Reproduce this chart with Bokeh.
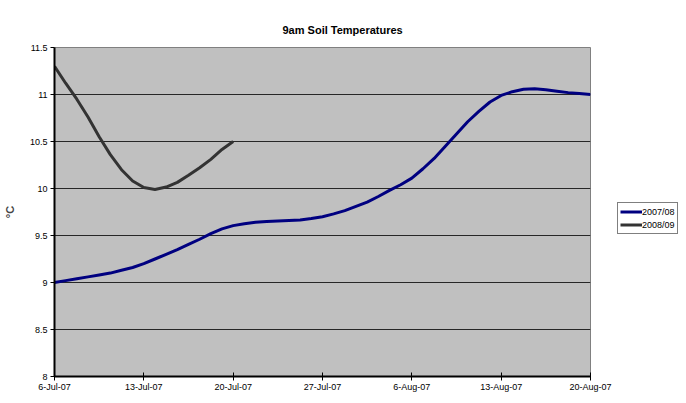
from bokeh.plotting import figure
from bokeh.models import FixedTicker, Legend, LegendItem, Range1d
from bokeh.embed import file_html
from bokeh.resources import INLINE

# category positions (index of x-axis label, fractional between labels)
x_labels = ["6-Jul-07", "13-Jul-07", "20-Jul-07", "27-Jul-07", "6-Aug-07", "13-Aug-07", "20-Aug-07"]

x_2007 = [0, 0.125, 0.25, 0.375, 0.5, 0.625, 0.75, 0.875, 1.0, 1.125, 1.25, 1.375, 1.5,
          1.625, 1.75, 1.875, 2.0, 2.125, 2.25, 2.375, 2.5, 2.625, 2.75, 2.875, 3.0,
          3.125, 3.25, 3.375, 3.5, 3.625, 3.75, 3.875, 4.0, 4.125, 4.25, 4.375, 4.5,
          4.625, 4.75, 4.875, 5.0, 5.125, 5.25, 5.375, 5.5, 5.625, 5.75, 5.875, 6.0]
temp_2007 = [9.00, 9.02, 9.04, 9.06, 9.08, 9.10, 9.13, 9.16, 9.20, 9.25, 9.30, 9.35, 9.405,
             9.46, 9.52, 9.57, 9.605, 9.625, 9.64, 9.65, 9.655, 9.66, 9.665, 9.68, 9.70,
             9.73, 9.765, 9.81, 9.855, 9.915, 9.98, 10.04, 10.11, 10.21, 10.32, 10.45, 10.58,
             10.71, 10.82, 10.92, 10.99, 11.03, 11.055, 11.06, 11.05, 11.035, 11.02, 11.01, 11.00]

x_2008 = [0, 0.125, 0.25, 0.375, 0.5, 0.625, 0.75, 0.875, 1.0,
          1.125, 1.25, 1.375, 1.5, 1.625, 1.75, 1.875, 2.0]
temp_2008 = [11.30, 11.12, 10.95, 10.76, 10.55, 10.36, 10.20, 10.08, 10.01,
             9.99, 10.015, 10.065, 10.14, 10.22, 10.31, 10.415, 10.50]

y_ticks = [8, 8.5, 9, 9.5, 10, 10.5, 11, 11.5]
y_tick_labels = ["8", "8.5", "9", "9.5", "10", "10.5", "11", "11.5"]

FONT = "Liberation Sans"

p = figure(frame_width=536, frame_height=329, output_backend="svg", toolbar_location=None,
           x_range=Range1d(0, 6), y_range=Range1d(8, 11.5),
           min_border_top=47, min_border_bottom=5,
           title="9am Soil Temperatures")

p.background_fill_color = "#C0C0C0"
p.border_fill_color = "white"
p.outline_line_color = "#808080"
p.outline_line_width = 1

p.title.text_font = FONT
p.title.text_font_size = "11px"
p.title.text_font_style = "bold"
p.title.align = "left"
p.title.offset = 228
p.title.text_color = "black"
p.title.standoff = 24

l1 = p.line(x_2007, temp_2007, line_color="#000080", line_width=3, line_join="round")
l2 = p.line(x_2008, temp_2008, line_color="#333333", line_width=3, line_join="round")

# x axis
p.xaxis.ticker = FixedTicker(ticks=list(range(len(x_labels))))
p.xaxis.major_label_overrides = {i: lab for i, lab in enumerate(x_labels)}
p.xaxis.major_tick_in = 4
p.xaxis.major_tick_out = 4
p.xaxis.minor_tick_line_color = None
p.xaxis.major_label_standoff = 1
p.xaxis.axis_label_standoff = 0
p.xaxis.axis_line_color = "black"
p.xaxis.axis_line_width = 2
p.xaxis.major_tick_line_color = "black"
p.xaxis.major_label_text_font = FONT
p.xaxis.major_label_text_font_size = "9px"
p.xaxis.major_label_text_color = "black"

# y axis
p.yaxis.ticker = FixedTicker(ticks=y_ticks)
p.yaxis.major_label_overrides = {t: lab for t, lab in zip(y_ticks, y_tick_labels)}
p.yaxis.major_tick_in = 0
p.yaxis.major_tick_out = 4
p.yaxis.minor_tick_line_color = None
p.yaxis.major_label_standoff = 3
p.yaxis.axis_line_color = "black"
p.yaxis.axis_line_width = 2
p.yaxis.major_tick_line_color = "black"
p.yaxis.major_label_text_font = FONT
p.yaxis.major_label_text_font_size = "9px"
p.yaxis.major_label_text_color = "black"
p.yaxis.axis_label = "°C"
p.yaxis.axis_label_text_font = FONT
p.yaxis.axis_label_text_font_size = "11px"
p.yaxis.axis_label_text_font_style = "bold"
p.yaxis.axis_label_standoff = 11

p.xgrid.grid_line_color = None
p.ygrid.ticker = FixedTicker(ticks=y_ticks)
p.ygrid.grid_line_color = "black"
p.ygrid.grid_line_width = 1
p.ygrid.grid_line_alpha = 0.8

legend = Legend(items=[LegendItem(label="2007/08", renderers=[l1]),
                       LegendItem(label="2008/09", renderers=[l2])],
                location=(27, 142), orientation="vertical")
legend.label_text_font = FONT
legend.label_text_font_size = "9px"
legend.label_text_color = "black"
legend.glyph_width = 22
legend.glyph_height = 13
legend.label_height = 13
legend.label_standoff = 0
legend.padding = 2
legend.margin = 0
legend.spacing = 0
legend.border_line_color = "black"
legend.border_line_width = 1
legend.background_fill_color = "white"
legend.background_fill_alpha = 1
p.add_layout(legend, "right")

open("out.html", "w").write(file_html(p, INLINE))
